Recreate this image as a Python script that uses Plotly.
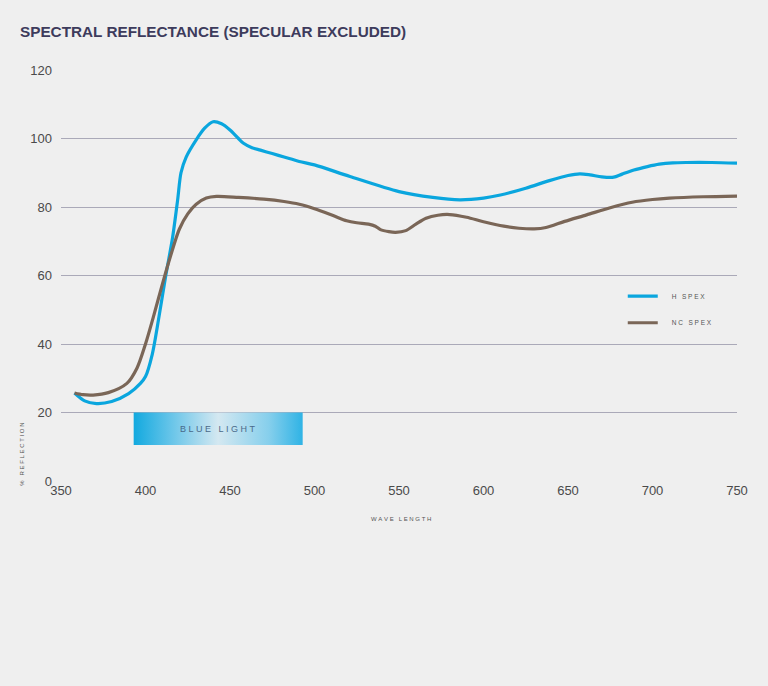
import plotly.graph_objects as go

# ---- data ----
wl_h = [358, 364, 371, 380, 390, 397, 400, 404, 408, 412, 416, 419, 421, 424, 430, 435, 440, 445, 450,
        455, 458, 463, 468, 475, 482, 491, 500, 521, 550, 570, 586, 600, 610, 625, 639, 650, 657,
        663, 670, 677, 682, 689, 697, 704, 712, 720, 735, 750]
h_spex = [25.7, 23.4, 22.6, 23.2, 25.5, 28.5, 30.5, 37, 48, 60, 71, 82, 90, 94.5, 99.6, 103, 104.9,
          104.3, 102.5, 100, 98.6, 97.3, 96.6, 95.6, 94.6, 93.3, 92.3, 88.9, 84.5, 82.8, 82.1, 82.6,
          83.5, 85.5, 87.7, 89.2, 89.7, 89.4, 88.8, 88.7, 89.6, 90.8, 91.8, 92.5, 92.9, 93, 93, 92.8]

wl_nc = [358, 363, 369, 378, 389, 395, 400, 405, 410, 415, 420, 425, 430, 436, 442, 455, 470,
         482, 491, 500, 511, 519, 525, 532, 536, 539, 544, 548, 554, 560, 566, 573, 580, 590, 600,
         612, 621, 630, 637, 648, 661, 675, 688, 700, 710, 730, 750]
nc_spex = [25.7, 25.2, 25.1, 25.8, 28.5, 33, 40, 48.5, 57.5, 66, 73.5, 78, 80.8, 82.6, 83.1, 82.8, 82.3,
           81.6, 80.8, 79.5, 77.5, 76, 75.4, 75, 74.4, 73.4, 72.8, 72.6, 73.1, 75, 76.7, 77.6, 77.8,
           77, 75.7, 74.4, 73.8, 73.6, 74, 75.8, 77.7, 79.8, 81.4, 82.2, 82.6, 83, 83.2]

blue_light_range = [393, 493]
blue_light_band = [10.5, 20]

x_ticks = [350, 400, 450, 500, 550, 600, 650, 700, 750]
y_ticks = [0, 20, 40, 60, 80, 100, 120]

title_text = "SPECTRAL REFLECTANCE (SPECULAR EXCLUDED)"

BG = "#efefef"
BLUE = "#0aa6de"
BROWN = "#7a6657"
FONT = "Liberation Sans, Arial, sans-serif"
NB = "\u00a0"


def spaced(s, gap=NB):
    """letter-spaced text (no letter-spacing attribute in plotly)"""
    return gap.join(NB if c == " " else c for c in s)


fig = go.Figure()

# blue light band (gradient filled)
bx0, bx1 = blue_light_range
by0, by1 = blue_light_band
fig.add_trace(go.Scatter(
    x=[bx0, bx1, bx1, bx0, bx0], y=[by0, by0, by1, by1, by0],
    mode="lines", fill="toself", line=dict(width=0),
    fillgradient=dict(type="horizontal",
                      colorscale=[[0, "#12a9df"], [0.2, "#5fc2e8"], [0.5, "#d4e8f1"],
                                  [0.8, "#86cfec"], [1, "#2fb3e5"]]),
    showlegend=False, hoverinfo="skip"))

fig.add_trace(go.Scatter(
    x=wl_h, y=h_spex, mode="lines", name=NB * 5 + spaced("H SPEX"),
    line=dict(color=BLUE, width=3.2, shape="spline", smoothing=0.8),
    legend="legend"))
fig.add_trace(go.Scatter(
    x=wl_nc, y=nc_spex, mode="lines", name=NB * 5 + spaced("NC SPEX"),
    line=dict(color=BROWN, width=3.2, shape="spline", smoothing=0.8),
    legend="legend2"))

fig.add_annotation(x=(bx0 + bx1) / 2, y=(by0 + by1) / 2, xref="x", yref="y",
                   text=spaced("BLUE LIGHT"), showarrow=False,
                   xanchor="center", yanchor="middle",
                   font=dict(family=FONT, size=9, color="#4a6a8a"))

fig.add_annotation(x=-0.0577, y=0.066, xref="paper", yref="paper", textangle=-90,
                   text=spaced("% REFLECTION"), showarrow=False,
                   xanchor="center", yanchor="middle",
                   font=dict(family=FONT, size=6, color="#555"))
fig.add_annotation(x=0.503, y=-0.0925, xref="paper", yref="paper",
                   text=spaced("WAVE LENGTH"), showarrow=False,
                   xanchor="center", yanchor="middle",
                   font=dict(family=FONT, size=6, color="#555"))

legend_common = dict(bgcolor="rgba(0,0,0,0)", borderwidth=0,
                     font=dict(family=FONT, size=6.5, color="#555"),
                     xanchor="left", yanchor="middle", itemwidth=30)

fig.update_layout(
    width=768, height=686,
    paper_bgcolor=BG, plot_bgcolor=BG,
    margin=dict(l=61, r=31, t=70, b=205),
    title=dict(text="<b>" + title_text + "</b>", x=20 / 768, xref="container", xanchor="left",
               y=1 - 32 / 686, yref="container", yanchor="middle",
               font=dict(family=FONT, size=15.3, color="#3d3b5c")),
    xaxis=dict(range=[350, 750], tickvals=x_ticks, showgrid=False, zeroline=False,
               showline=False, ticks="", tickfont=dict(family=FONT, size=13, color="#4a4a4a")),
    yaxis=dict(range=[0, 120], tickvals=y_ticks, showgrid=True, gridcolor="#aaa9b8",
               gridwidth=1, zeroline=False, showline=False, ticks="", ticklabelstandoff=8,
               tickfont=dict(family=FONT, size=13, color="#4a4a4a")),
    legend=dict(x=0.831, y=0.45, **legend_common),
    legend2=dict(x=0.831, y=0.385, **legend_common),
)

fig.write_html("out.html", config={"displayModeBar": False},
               post_script="document.body.style.margin='0';document.body.style.background='#efefef';")
